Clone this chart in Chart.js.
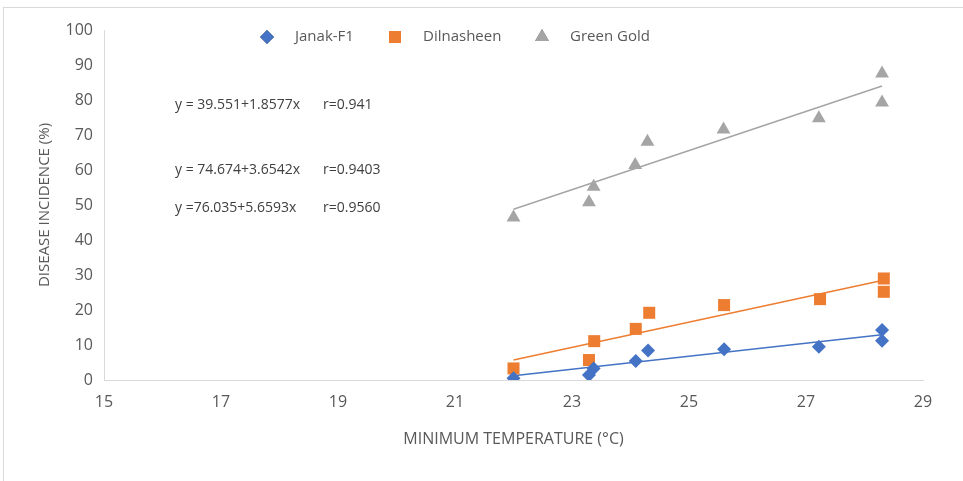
<!DOCTYPE html>
<html>
<head>
<meta charset="utf-8">
<script src="https://cdn.jsdelivr.net/npm/chart.js@4"></script>
<style>
  body { margin: 0; background: #fff; }
  #wrap { width: 963px; height: 481px; }
</style>
</head>
<body>
<div id="wrap"><canvas id="chart" width="963" height="481"></canvas></div>
<script>
// minimum temperature (°C) for each observation
const janakX = [22.0, 23.29, 23.37, 24.09, 24.3, 25.6, 27.22, 28.3, 28.3];
const janakY = [0.5, 1.4, 3.3, 5.4, 8.4, 8.8, 9.5, 14.3, 11.2];

const dilX = [22.0, 23.29, 23.38, 24.09, 24.32, 25.6, 27.24, 28.33, 28.33];
const dilY = [3.3, 5.7, 11.1, 14.6, 19.2, 21.4, 23.1, 29.0, 25.2];

const greenX = [22.0, 23.29, 23.37, 24.08, 24.29, 25.59, 27.22, 28.3, 28.3];
const greenY = [46.4, 50.8, 55.2, 61.4, 68.1, 71.6, 74.8, 87.6, 79.3];

// trend line ends
const trendX = [22.0, 28.3];
const janakTrend = [1.2, 12.9];
const dilTrend = [5.7, 28.4];
const greenTrend = [48.8, 84.0];

const equations = [
  ['y = 39.551+1.8577x', 'r=0.941'],
  ['y = 74.674+3.6542x', 'r=0.9403'],
  ['y =76.035+5.6593x', 'r=0.9560']
];

const pts = (xs, ys) => xs.map((x, i) => ({ x: x, y: ys[i] }));

const BLUE = '#4472C4', ORANGE = '#ED7D31', GREY = '#A5A5A5';
const TXT = '#595959';
const FONT = '"Open Sans", sans-serif';

const frame = {
  id: 'frame',
  beforeDraw(chart) {
    const ctx = chart.ctx;
    ctx.save();
    ctx.fillStyle = '#fff';
    ctx.fillRect(0, 0, chart.width, chart.height);
    ctx.strokeStyle = '#d9d9d9';
    ctx.lineWidth = 1;
    ctx.strokeRect(3.5, 7.5, 962, 475);
    ctx.restore();
  },
  afterDraw(chart) {
    const ctx = chart.ctx;
    ctx.save();
    // equations
    ctx.fillStyle = '#404040';
    ctx.font = '14px ' + FONT;
    ctx.textBaseline = 'middle';
    const rows = [105, 170, 208];
    equations.forEach((e, i) => {
      ctx.fillText(e[0], 175, rows[i]);
      ctx.fillText(e[1], 323, rows[i]);
    });
    // legend
    const items = [0, 1, 2].map(i => chart.data.datasets[i]);
    const xs = [267, 395, 542];
    ctx.font = '15px ' + FONT;
    items.forEach((ds, i) => {
      Chart.helpers.drawPoint(ctx, {
        pointStyle: ds.pointStyle,
        radius: ds.pointRadius,
        borderWidth: 0
      }, xs[i], 37);
      ctx.fillStyle = ds.backgroundColor;
      ctx.fill();
      ctx.fillStyle = TXT;
      ctx.fillText(ds.label, xs[i] + 28, 37);
    });
    ctx.restore();
  }
};

new Chart(document.getElementById('chart'), {
  type: 'scatter',
  plugins: [frame],
  data: {
    datasets: [
      { label: 'Janak-F1', data: pts(janakX, janakY), pointStyle: 'rectRot', pointRadius: 7,
        backgroundColor: BLUE, borderColor: BLUE, borderWidth: 0 },
      { label: 'Dilnasheen', data: pts(dilX, dilY), pointStyle: 'rect', pointRadius: 8.5,
        backgroundColor: ORANGE, borderColor: ORANGE, borderWidth: 0 },
      { label: 'Green Gold', data: pts(greenX, greenY), pointStyle: 'triangle', pointRadius: 8,
        backgroundColor: GREY, borderColor: GREY, borderWidth: 0 },
      { label: 'trend1', data: pts(trendX, janakTrend), showLine: true, pointRadius: 0,
        borderColor: BLUE, borderWidth: 1.5 },
      { label: 'trend2', data: pts(trendX, dilTrend), showLine: true, pointRadius: 0,
        borderColor: ORANGE, borderWidth: 1.5 },
      { label: 'trend3', data: pts(trendX, greenTrend), showLine: true, pointRadius: 0,
        borderColor: GREY, borderWidth: 1.5 }
    ]
  },
  options: {
    responsive: false,
    animation: false,
    layout: { padding: { left: 0, right: 40, top: 30, bottom: 0 } },
    plugins: {
      legend: { display: false },
      tooltip: { enabled: false }
    },
    scales: {
      x: {
        type: 'linear',
        min: 15, max: 29,
        afterFit: s => { s.height = 101; },
        grid: { display: false, drawTicks: false },
        border: { color: '#d9d9d9' },
        ticks: { stepSize: 2, color: TXT, font: { family: FONT, size: 16 }, padding: 13 },
        title: { display: true, text: 'MINIMUM TEMPERATURE (°C)', color: TXT,
          font: { family: FONT, size: 16 }, padding: { top: 0, bottom: 32 } }
      },
      y: {
        min: 0, max: 100,
        afterFit: s => { s.width = 104; },
        grid: { display: false, drawTicks: false },
        border: { color: '#d9d9d9' },
        ticks: { stepSize: 10, color: TXT, font: { family: FONT, size: 16 }, padding: 11 },
        title: { display: true, text: 'DISEASE INCIDENCE (%)', color: TXT,
          font: { family: FONT, size: 15 }, padding: { top: 36, bottom: 0 } }
      }
    }
  }
});
</script>
</body>
</html>
